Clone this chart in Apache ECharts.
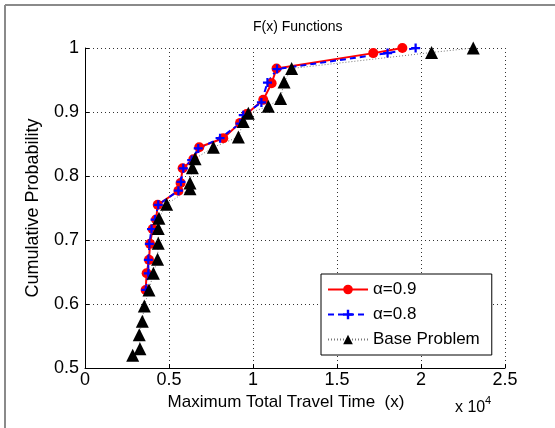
<!DOCTYPE html>
<html>
<head>
    <meta charset="utf-8">
    <title>F(x) Functions</title>
    <script src="https://cdn.jsdelivr.net/npm/echarts@6/dist/echarts.min.js"></script>
    <style>
        html, body { margin: 0; padding: 0; background: #fff; }
        #main { width: 555px; height: 428px; }
    </style>
</head>
<body>
<div id="main"></div>
<script type="text/javascript">
    // alpha = 0.9
    var a9_x = [3610, 3670, 3810, 3870, 4030, 4230, 4330, 5560, 5690, 5810, 6450, 6800, 8230, 9230, 9620, 10610, 11110, 11400, 17160, 18890];
    var a9_y = [0.622, 0.648, 0.669, 0.694, 0.717, 0.732, 0.755, 0.777, 0.789, 0.812, 0.826, 0.845, 0.859, 0.883, 0.897, 0.919, 0.945, 0.968, 0.992, 1.0];
    // alpha = 0.8
    var a8_x = [3620, 3770, 3770, 3830, 3960, 4170, 4360, 5560, 5710, 5850, 6350, 6740, 8040, 9230, 9420, 10500, 10860, 11430, 18010, 19680];
    var a8_y = [0.622, 0.648, 0.669, 0.694, 0.717, 0.732, 0.755, 0.777, 0.791, 0.812, 0.825, 0.843, 0.859, 0.882, 0.895, 0.915, 0.946, 0.967, 0.992, 1.0];
    // base problem
    var base_x = [2840, 3270, 3230, 3410, 3530, 3810, 4070, 4320, 4360, 4360, 4400, 4860, 6250, 6250, 6390, 6550, 7640, 9130, 9420, 9720, 10910, 11640, 11850, 12300, 20630, 23110];
    var base_y = [0.52, 0.53, 0.552, 0.573, 0.597, 0.622, 0.648, 0.67, 0.695, 0.718, 0.734, 0.756, 0.78, 0.789, 0.813, 0.827, 0.845, 0.861, 0.885, 0.898, 0.909, 0.921, 0.947, 0.968, 0.993, 1.0];

    var xTicks = [0, 5000, 10000, 15000, 20000, 25000];
    var yTicks = [0.5, 0.6, 0.7, 0.8, 0.9, 1];

    function pairs(xs, ys) {
        var out = [];
        for (var i = 0; i < xs.length; i++) out.push([xs[i], ys[i]]);
        return out;
    }

    var plusPath = 'path://M3,0H5V3H8V5H5V8H3V5H0V3H3Z';
    var font = 'Liberation Sans, Arial, Helvetica, sans-serif';
    var gridLine = {show: true, lineStyle: {color: '#333', type: [1, 3], width: 1}};

    var myChart = echarts.init(document.getElementById('main'));
    myChart.setOption({
        animation: false,
        textStyle: {fontFamily: font},
        title: {
            text: 'F(x) Functions',
            left: 248,
            top: 15,
            textStyle: {fontSize: 14, fontWeight: 'normal', color: '#000', fontFamily: font}
        },
        grid: {left: 85, right: 50, top: 48, bottom: 60},
        legend: {
            orient: 'vertical',
            left: 321,
            top: 274,
            backgroundColor: '#fff',
            borderColor: '#000',
            borderWidth: 1,
            borderRadius: 0,
            padding: [7, 12, 7, 6],
            itemGap: 8,
            itemWidth: 40,
            itemHeight: 12,
            textStyle: {fontSize: 17, color: '#000', fontFamily: font},
            data: ['α=0.9', 'α=0.8', 'Base Problem']
        },
        xAxis: {
            type: 'value',
            min: xTicks[0],
            max: xTicks[xTicks.length - 1],
            interval: 5000,
            name: 'Maximum Total Travel Time  (x)',
            nameLocation: 'middle',
            nameGap: 19,
            nameTextStyle: {fontSize: 17, color: '#000', fontFamily: font, padding: [0, 18, 0, 0]},
            axisLine: {lineStyle: {color: '#000', width: 1}},
            axisTick: {inside: true, length: 4, lineStyle: {color: '#000'}},
            axisLabel: {
                fontSize: 18, color: '#000', margin: 3, fontFamily: font,
                formatter: function (v) { return String(v / 10000); }
            },
            splitLine: gridLine
        },
        yAxis: {
            type: 'value',
            min: yTicks[0],
            max: yTicks[yTicks.length - 1],
            interval: 0.1,
            name: 'Cumulative Probability',
            nameLocation: 'middle',
            nameGap: 43,
            nameTextStyle: {fontSize: 18, color: '#000', fontFamily: font},
            axisLine: {show: true, lineStyle: {color: '#000', width: 1}},
            axisTick: {show: true, inside: true, length: 4, lineStyle: {color: '#000'}},
            axisLabel: {
                fontSize: 18, color: '#000', margin: 6, fontFamily: font,
                formatter: function (v) { return String(Math.round(v * 10) / 10); }
            },
            splitLine: gridLine
        },
        graphic: [
            {type: 'line', shape: {x1: 5, y1: 5, x2: 555, y2: 5}, style: {stroke: '#8a8a8a', lineWidth: 2}},
            {type: 'line', shape: {x1: 5, y1: 5, x2: 5, y2: 428}, style: {stroke: '#8a8a8a', lineWidth: 2}},
            {
                type: 'text', left: 455, top: 400,
                style: {text: 'x 10', font: '16px ' + font, fill: '#000'}
            },
            {
                type: 'text', left: 485, top: 395,
                style: {text: '4', font: '11px ' + font, fill: '#000'}
            }
        ],
        series: [
            {
                name: 'α=0.9', type: 'line', data: pairs(a9_x, a9_y),
                symbol: 'circle', symbolSize: 10,
                lineStyle: {color: '#ff0000', width: 2},
                itemStyle: {color: '#ff0000'}
            },
            {
                name: 'α=0.8', type: 'line', data: pairs(a8_x, a8_y),
                symbol: plusPath, symbolSize: 9,
                lineStyle: {color: '#0000ff', width: 2, type: [6, 4]},
                itemStyle: {color: '#0000ff'}
            },
            {
                name: 'Base Problem', type: 'line', data: pairs(base_x, base_y),
                symbol: 'triangle', symbolSize: 13,
                lineStyle: {color: '#777', width: 1, type: [1, 2]},
                itemStyle: {color: '#000'}
            }
        ]
    });
</script>
</body>
</html>
